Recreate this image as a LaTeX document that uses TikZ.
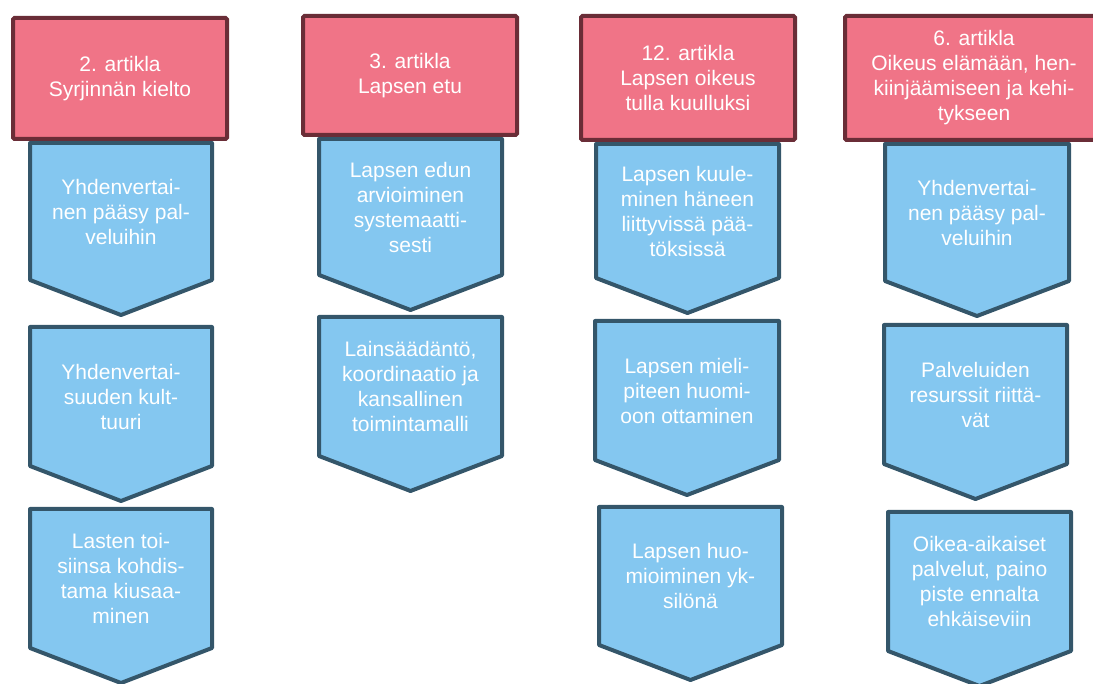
\documentclass[tikz,border=0pt]{standalone}
\usepackage{fontspec}
\setmainfont{Liberation Sans}
\usetikzlibrary{backgrounds}
\definecolor{headfill}{HTML}{F07487}
\definecolor{headline}{HTML}{6A2D37}
\definecolor{stepfill}{HTML}{84C7F0}
\definecolor{stepline}{HTML}{34566A}
\tikzset{
  txt/.style={text=white, align=center, inner sep=0pt, outer sep=0pt,
    font=\fontsize{21}{25}\selectfont},
  header/.style={txt, rectangle, fill=headfill, draw=headline, line width=4pt,
    rounded corners=1.5pt},
  stepbox/.style={txt, rectangle},
  chevron/.style={fill=stepfill, draw=stepline, line width=4pt, line join=round}
}
\begin{document}
\begin{tikzpicture}[x=1pt,y=-1pt]
  \useasboundingbox (0,0) rectangle (1093,684);
  \node[header, minimum width=214pt, minimum height=121pt] (h1) at (120,78.5) {2. artikla\\Syrjinnän kielto};
  \node[header, minimum width=214pt, minimum height=119pt] (h2) at (410,75.5) {3. artikla\\Lapsen etu};
  \node[header, minimum width=214pt, minimum height=124pt] (h3) at (688,78) {12. artikla\\Lapsen oikeus\\tulla kuulluksi};
  \node[header, minimum width=258pt, minimum height=124pt] (h4) at (974,78) {6. artikla\\Oikeus elämään, hen-\\kiinjäämiseen ja kehi-\\tykseen};
  \node[stepbox, minimum width=182pt, minimum height=137pt] (b11) at (121,211.5) {Yhdenvertai-\\nen pääsy pal-\\veluihin};
  \node[stepbox, minimum width=182pt, minimum height=139pt] (b12) at (121,396.5) {Yhdenvertai-\\suuden kult-\\tuuri};
  \node[stepbox, minimum width=182pt, minimum height=139pt] (b13) at (121,578.5) {Lasten toi-\\siinsa kohdis-\\tama kiusaa-\\minen};
  \node[stepbox, minimum width=183pt, minimum height=136pt] (b21) at (410.5,207) {Lapsen edun\\arvioiminen\\systemaatti-\\sesti};
  \node[stepbox, minimum width=183pt, minimum height=139pt] (b22) at (410.5,386.5) {Lainsäädäntö,\\koordinaatio ja\\kansallinen\\toimintamalli};
  \node[stepbox, minimum width=183pt, minimum height=134pt] (b31) at (687.5,211) {Lapsen kuule-\\minen häneen\\liittyvissä pää-\\töksissä};
  \node[stepbox, minimum width=184pt, minimum height=139pt] (b32) at (687,390.5) {Lapsen mieli-\\piteen huomi-\\oon ottaminen};
  \node[stepbox, minimum width=183pt, minimum height=138pt] (b33) at (690.5,576) {Lapsen huo-\\mioiminen yk-\\silönä};
  \node[stepbox, minimum width=184pt, minimum height=137pt] (b41) at (977,212.5) {Yhdenvertai-\\nen pääsy pal-\\veluihin};
  \node[stepbox, minimum width=183pt, minimum height=139pt] (b42) at (975.5,394.5) {Palveluiden\\resurssit riittä-\\vät};
  \node[stepbox, minimum width=183pt, minimum height=139pt] (b43) at (979.5,581.5) {Oikea-aikaiset\\palvelut, paino\\piste ennalta\\ehkäiseviin};
  \begin{scope}[on background layer]
    \foreach \n in {b11,b12,b13,b21,b22,b31,b32,b33,b41,b42,b43}
      \draw[chevron] (\n.north west) -- (\n.north east) -- (\n.south east)
        -- ([yshift=-35pt]\n.south) -- (\n.south west) -- cycle;
  \end{scope}
\end{tikzpicture}
\end{document}
